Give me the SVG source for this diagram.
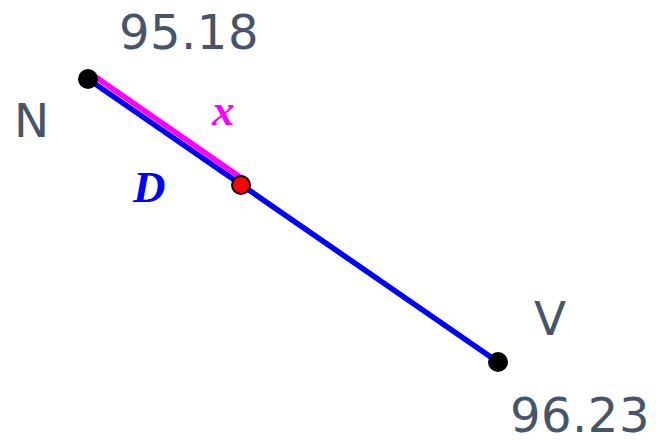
<svg xmlns="http://www.w3.org/2000/svg" width="656" height="440" viewBox="0 0 656 440">
<style>
.lbl{font-family:"DejaVu Sans",Verdana,sans-serif;font-size:47px;fill:#475569}
.num{font-size:48px;letter-spacing:0.5px}
.math{font-family:"Liberation Serif","Times New Roman",serif;font-style:italic;font-weight:bold;font-size:45px}
.pt{fill:#000}
</style>
<rect width="656" height="440" fill="#fff"/>
<g id="connectors">
<line x1="88" y1="79" x2="498" y2="362" stroke="#0000ff" stroke-width="5.5"/>
<line x1="91.4" y1="74.1" x2="244.4" y2="180.1" stroke="#ff00ff" stroke-width="5.5"/>
</g>
<g id="labels">
<text class="math" x="133" y="202" fill="#0000ff">D</text>
<text class="math" x="212" y="125" fill="#ff00ff">x</text>
</g>
<g id="N">
<circle class="pt" cx="88" cy="79" r="10"/>
<text class="lbl" x="14" y="137">N</text>
<text class="lbl num" x="119" y="49">95.18</text>
</g>
<g id="V">
<circle class="pt" cx="498" cy="362" r="10"/>
<text class="lbl" x="534" y="335">V</text>
<text class="lbl num" x="510" y="432">96.23</text>
</g>
<g id="P">
<circle cx="241" cy="185" r="9" fill="#ff0000" stroke="#000" stroke-width="2"/>
</g>
</svg>
